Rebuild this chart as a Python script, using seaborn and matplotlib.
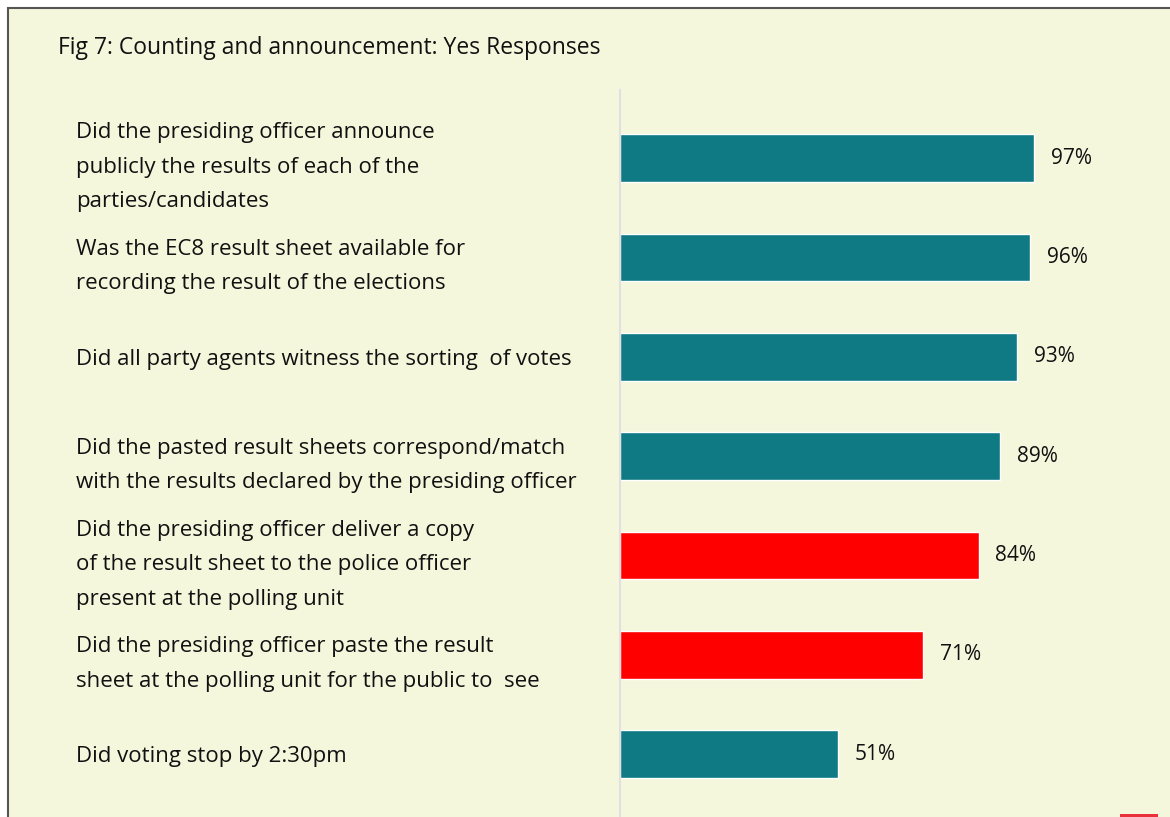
import matplotlib
matplotlib.use("Agg")
import matplotlib.pyplot as plt
import seaborn as sns
import pandas as pd
from matplotlib.patches import Rectangle

# chart data
questions = [
    "Did the presiding officer announce\npublicly the results of each of the\nparties/candidates",
    "Was the EC8 result sheet available for\nrecording the result of the elections",
    "Did all party agents witness the sorting  of votes",
    "Did the pasted result sheets correspond/match\nwith the results declared by the presiding officer",
    "Did the presiding officer deliver a copy\nof the result sheet to the police officer\npresent at the polling unit",
    "Did the presiding officer paste the result\nsheet at the polling unit for the public to  see",
    "Did voting stop by 2:30pm",
]
yes_pct = [97, 96, 93, 89, 84, 71, 51]
flagged = [False, False, False, False, True, True, False]
title = "Fig 7: Counting and announcement: Yes Responses"

TEAL = "#107A84"
RED = "#FF0000"
BG = "#F4F7DC"

df = pd.DataFrame({"question": questions, "pct": yes_pct})
palette = {q: (RED if f else TEAL) for q, f in zip(questions, flagged)}

sns.set_style("white")
plt.rcParams["font.family"] = ["Open Sans", "DejaVu Sans"]

W, H = 1170, 817
fig = plt.figure(figsize=(W / 100, H / 100), dpi=100)
fig.patch.set_facecolor("white")

# card background with border on top/left
fig.patches.append(Rectangle((8 / W, -0.01), 1.0, 1 - 8 / H + 0.01, transform=fig.transFigure,
                             facecolor=BG, edgecolor="#555555", linewidth=1.5, zorder=-2))
fig.patches.append(Rectangle((1120 / W, 0), 38 / W, 3 / H, transform=fig.transFigure,
                             facecolor="#E8313A", edgecolor="none", zorder=-1))

ax = fig.add_axes([620 / W, 0, 550 / W, (817 - 90) / H])
ax.set_facecolor("none")
sns.barplot(data=df, y="question", x="pct", hue="question", palette=palette,
            legend=False, width=0.48, saturation=1, ax=ax)

for cont, v in zip(ax.containers, yes_pct):
    ax.bar_label(cont, labels=[f"{v}%"], padding=12, fontsize=15, color="#111111")

ax.set_xlim(0, 550 / 4.27)
ax.set_ylim(6.634, -0.685)
ax.set_xlabel("")
ax.set_ylabel("")
ax.set_xticks([])
for s in ["top", "right", "bottom"]:
    ax.spines[s].set_visible(False)
ax.spines["left"].set_color("#E0E0E0")
ax.spines["left"].set_linewidth(1.5)

ax.tick_params(axis="y", length=0, pad=(620 - 76) * 0.72)
for lbl in ax.get_yticklabels():
    lbl.set_horizontalalignment("left")
    lbl.set_fontsize(16)
    lbl.set_linespacing(1.85)
    lbl.set_color("#111111")

fig.text(58 / W, 1 - 48 / H, title, fontsize=16.5, va="center", ha="left", color="#111111")

fig.savefig("out.png", dpi=100)
